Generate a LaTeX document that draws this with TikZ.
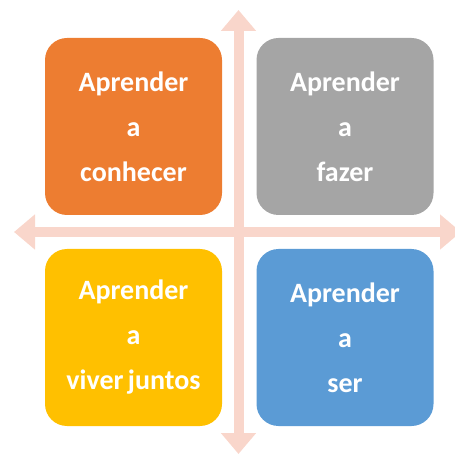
\documentclass[tikz,border=0pt]{standalone}
\usepackage{fontspec}
\setmainfont{Carlito}
\usetikzlibrary{arrows.meta}
\definecolor{cOrange}{HTML}{ED7D31}
\definecolor{cGray}{HTML}{A5A5A5}
\definecolor{cYellow}{HTML}{FFC000}
\definecolor{cBlue}{HTML}{5B9BD5}
\definecolor{cArrow}{HTML}{F9D6CB}
\newcommand\quadfont{\bfseries\fontsize{28}{45}\selectfont\spaceskip=0.16em\relax}
\begin{document}
\begin{tikzpicture}[x=1pt,y=-1pt,
  quad/.style={rounded corners=22pt, minimum width=177pt, minimum height=177pt,
    inner sep=0pt, align=center, text=white, font=\quadfont},
  axis/.style={cArrow, line width=10pt,
    {Triangle[width=34pt,length=21pt]}-{Triangle[width=34pt,length=21pt]}}]
\useasboundingbox (0,0) rectangle (455,454);
\clip (0,0) rectangle (455,454);
\coordinate (vtop) at (238.5,10);
\coordinate (vbot) at (238.5,454);
\coordinate (hleft) at (14,232);
\coordinate (hright) at (461,232);
\draw[axis] (vtop) -- (vbot);
\draw[axis] (hleft) -- (hright);
\node[quad, fill=cOrange] (know) at (133.5,126.5) {Aprender\\a\\conhecer};
\node[quad, fill=cGray] (do) at (345,126.5) {Aprender\\a\\fazer};
\node[quad, fill=cYellow] (live) at (133.5,337.5) {Aprender\\a\\viver juntos};
\node[quad, fill=cBlue] (be) at (345,337.5) {Aprender\\a\\ser};
\end{tikzpicture}
\end{document}
